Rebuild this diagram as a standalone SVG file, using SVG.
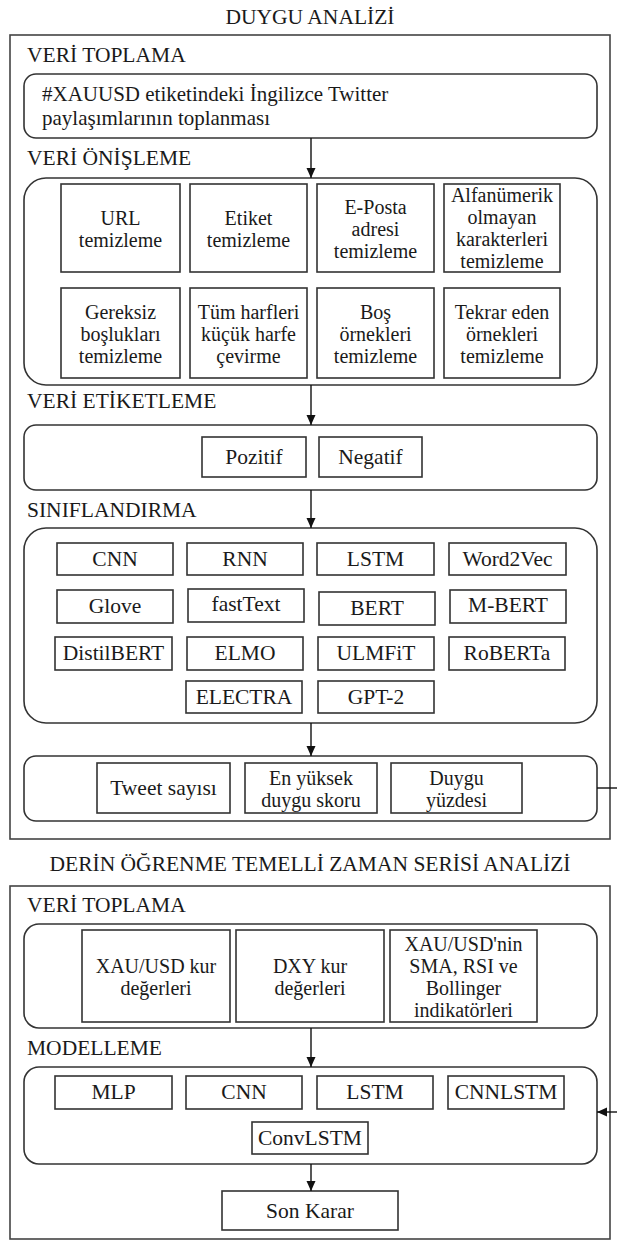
<svg xmlns="http://www.w3.org/2000/svg" width="617" height="1241" viewBox="0 0 617 1241">
<style>
.t{font-family:"Liberation Serif","Times New Roman",serif;font-size:21.5px;fill:#1a1a1a}
.m{font-size:20px}
.c{text-anchor:middle}
.box{fill:#fff;stroke:#333;stroke-width:1.6}
.cont{fill:#fff;stroke:#333;stroke-width:1.6}
.frame{fill:none;stroke:#444;stroke-width:1.6}
.conn{stroke:#111;stroke-width:1.4;fill:none}
.arr{marker-end:url(#ah)}
</style>
<defs>
<marker id="ah" markerUnits="userSpaceOnUse" markerWidth="10" markerHeight="10" refX="10" refY="5" orient="auto">
<path d="M0,0.5 L10,5 L0,9.5 z" fill="#111"/>
</marker>
</defs>
<rect width="617" height="1241" fill="#fff"/>

<g id="section1">
<text class="t c" x="310" y="24">DUYGU ANALİZİ</text>
<rect class="frame" x="10" y="35" width="600" height="804"/>
<text class="t" x="27" y="62">VERİ TOPLAMA</text>
<text class="t" x="27" y="165">VERİ ÖNİŞLEME</text>
<text class="t" x="27" y="408">VERİ ETİKETLEME</text>
<text class="t" x="27" y="517">SINIFLANDIRMA</text>
</g>

<g id="collect1">
<rect class="cont" x="24" y="74" width="573" height="64" rx="12"/>
<text class="t" style="font-size:21px" x="42" y="101">#XAUUSD etiketindeki İngilizce Twitter<tspan x="42" dy="23.5">paylaşımlarının toplanması</tspan></text>
</g>

<g id="preprocess">
<rect class="cont" x="24" y="178" width="573" height="207" rx="22"/>
<g id="url"><rect class="box" x="61" y="184" width="119" height="88"/><text class="t m c" x="120.5" y="225">URL<tspan x="120.5" dy="22">temizleme</tspan></text></g>
<g id="etiket"><rect class="box" x="190" y="184" width="117" height="88"/><text class="t m c" x="248.5" y="225">Etiket<tspan x="248.5" dy="22">temizleme</tspan></text></g>
<g id="eposta"><rect class="box" x="317" y="184" width="117" height="88"/><text class="t m c" x="375.5" y="214">E-Posta<tspan x="375.5" dy="22">adresi</tspan><tspan x="375.5" dy="22">temizleme</tspan></text></g>
<g id="alfanumerik"><rect class="box" x="444" y="184" width="116" height="88"/><text class="t m c" x="502" y="202">Alfanümerik<tspan x="502" dy="22">olmayan</tspan><tspan x="502" dy="22">karakterleri</tspan><tspan x="502" dy="22">temizleme</tspan></text></g>
<g id="bosluk"><rect class="box" x="61" y="288" width="119" height="90"/><text class="t m c" x="120.5" y="319">Gereksiz<tspan x="120.5" dy="22">boşlukları</tspan><tspan x="120.5" dy="22">temizleme</tspan></text></g>
<g id="kucukharf"><rect class="box" x="190" y="288" width="117" height="90"/><text class="t m c" x="248.5" y="319">Tüm harfleri<tspan x="248.5" dy="22">küçük harfe</tspan><tspan x="248.5" dy="22">çevirme</tspan></text></g>
<g id="bos"><rect class="box" x="317" y="288" width="117" height="90"/><text class="t m c" x="375.5" y="319">Boş<tspan x="375.5" dy="22">örnekleri</tspan><tspan x="375.5" dy="22">temizleme</tspan></text></g>
<g id="tekrar"><rect class="box" x="444" y="288" width="116" height="90"/><text class="t m c" x="502" y="319">Tekrar eden<tspan x="502" dy="22">örnekleri</tspan><tspan x="502" dy="22">temizleme</tspan></text></g>
</g>

<g id="labeling">
<rect class="cont" x="24" y="425" width="573" height="65" rx="12"/>
<g id="pozitif"><rect class="box" x="202" y="437" width="104" height="40"/><text class="t c" x="254" y="464">Pozitif</text></g>
<g id="negatif"><rect class="box" x="319" y="437" width="103" height="40"/><text class="t c" x="370.5" y="464">Negatif</text></g>
</g>

<g id="classification">
<rect class="cont" x="24" y="528" width="573" height="195" rx="22"/>
<g id="c-cnn"><rect class="box" x="57" y="543" width="116" height="32"/><text class="t c" x="115" y="566">CNN</text></g>
<g id="c-rnn"><rect class="box" x="187" y="543" width="116" height="32"/><text class="t c" x="245" y="566">RNN</text></g>
<g id="c-lstm"><rect class="box" x="317" y="543" width="117" height="32"/><text class="t c" x="375.5" y="566">LSTM</text></g>
<g id="c-word2vec"><rect class="box" x="449" y="543" width="117" height="32"/><text class="t c" x="507.5" y="566">Word2Vec</text></g>
<g id="c-glove"><rect class="box" x="57" y="590" width="116" height="33"/><text class="t c" x="115" y="613">Glove</text></g>
<g id="c-fasttext"><rect class="box" x="188" y="589" width="116" height="33"/><text class="t c" x="246" y="611">fastText</text></g>
<g id="c-bert"><rect class="box" x="319" y="592" width="116" height="33"/><text class="t c" x="377" y="615">BERT</text></g>
<g id="c-mbert"><rect class="box" x="450" y="590" width="116" height="33"/><text class="t c" x="508" y="612">M-BERT</text></g>
<g id="c-distilbert"><rect class="box" x="55" y="637" width="117" height="33"/><text class="t c" x="113.5" y="660">DistilBERT</text></g>
<g id="c-elmo"><rect class="box" x="187" y="637" width="116" height="33"/><text class="t c" x="245" y="660">ELMO</text></g>
<g id="c-ulmfit"><rect class="box" x="318" y="637" width="116" height="33"/><text class="t c" x="376" y="660">ULMFiT</text></g>
<g id="c-roberta"><rect class="box" x="449" y="637" width="116" height="33"/><text class="t c" x="507" y="660">RoBERTa</text></g>
<g id="c-electra"><rect class="box" x="186" y="681" width="116" height="32"/><text class="t c" x="244" y="704">ELECTRA</text></g>
<g id="c-gpt2"><rect class="box" x="318" y="681" width="116" height="32"/><text class="t c" x="376" y="704">GPT-2</text></g>
</g>

<g id="outputs">
<rect class="cont" x="24" y="756" width="573" height="65" rx="12"/>
<g id="tweet"><rect class="box" x="97" y="763" width="133" height="50"/><text class="t c" x="163.5" y="795">Tweet sayısı</text></g>
<g id="skor"><rect class="box" x="245" y="763" width="132" height="50"/><text class="t m c" x="311" y="785">En yüksek<tspan x="311" dy="22">duygu skoru</tspan></text></g>
<g id="yuzde"><rect class="box" x="391" y="763" width="131" height="50"/><text class="t m c" x="456.5" y="785">Duygu<tspan x="456.5" dy="22">yüzdesi</tspan></text></g>
</g>

<g id="section2">
<text class="t c" x="310" y="871">DERİN ÖĞRENME TEMELLİ ZAMAN SERİSİ ANALİZİ</text>
<rect class="frame" x="10" y="886" width="600" height="353"/>
<text class="t" x="27" y="912">VERİ TOPLAMA</text>
<text class="t" x="27" y="1055">MODELLEME</text>
</g>

<g id="collect2">
<rect class="cont" x="24" y="924" width="573" height="104" rx="15"/>
<g id="xauusd"><rect class="box" x="82" y="930" width="148" height="92"/><text class="t m c" x="156" y="973">XAU/USD kur<tspan x="156" dy="22">değerleri</tspan></text></g>
<g id="dxy"><rect class="box" x="236" y="930" width="148" height="92"/><text class="t m c" x="310" y="973">DXY kur<tspan x="310" dy="22">değerleri</tspan></text></g>
<g id="indikator"><rect class="box" x="390" y="930" width="147" height="92"/><text class="t m c" x="463.5" y="951">XAU/USD'nin<tspan x="463.5" dy="22">SMA, RSI ve</tspan><tspan x="463.5" dy="22">Bollinger</tspan><tspan x="463.5" dy="22">indikatörleri</tspan></text></g>
</g>

<g id="modeling">
<rect class="cont" x="24" y="1067" width="573" height="97" rx="15"/>
<g id="m-mlp"><rect class="box" x="55" y="1076" width="117" height="33"/><text class="t c" x="113.5" y="1099">MLP</text></g>
<g id="m-cnn"><rect class="box" x="186" y="1076" width="116" height="33"/><text class="t c" x="244" y="1099">CNN</text></g>
<g id="m-lstm"><rect class="box" x="317" y="1076" width="116" height="33"/><text class="t c" x="375" y="1099">LSTM</text></g>
<g id="m-cnnlstm"><rect class="box" x="448" y="1076" width="116" height="33"/><text class="t c" x="506" y="1099">CNNLSTM</text></g>
<g id="m-convlstm"><rect class="box" x="252" y="1122" width="116" height="32"/><text class="t c" x="310" y="1145">ConvLSTM</text></g>
</g>

<g id="sonkarar">
<rect class="box" x="222" y="1191" width="176" height="39"/>
<text class="t c" x="310" y="1218">Son Karar</text>
</g>

<g id="connectors">
<line class="conn arr" x1="311" y1="138" x2="311" y2="178"/>
<line class="conn arr" x1="311" y1="385" x2="311" y2="425"/>
<line class="conn arr" x1="311" y1="490" x2="311" y2="528"/>
<line class="conn arr" x1="311" y1="723" x2="311" y2="756"/>
<line class="conn" x1="597" y1="788" x2="617" y2="788"/>
<line class="conn arr" x1="311" y1="1028" x2="311" y2="1067"/>
<line class="conn arr" x1="617" y1="1112" x2="597" y2="1112"/>
<line class="conn arr" x1="311" y1="1164" x2="311" y2="1191"/>
</g>
</svg>
